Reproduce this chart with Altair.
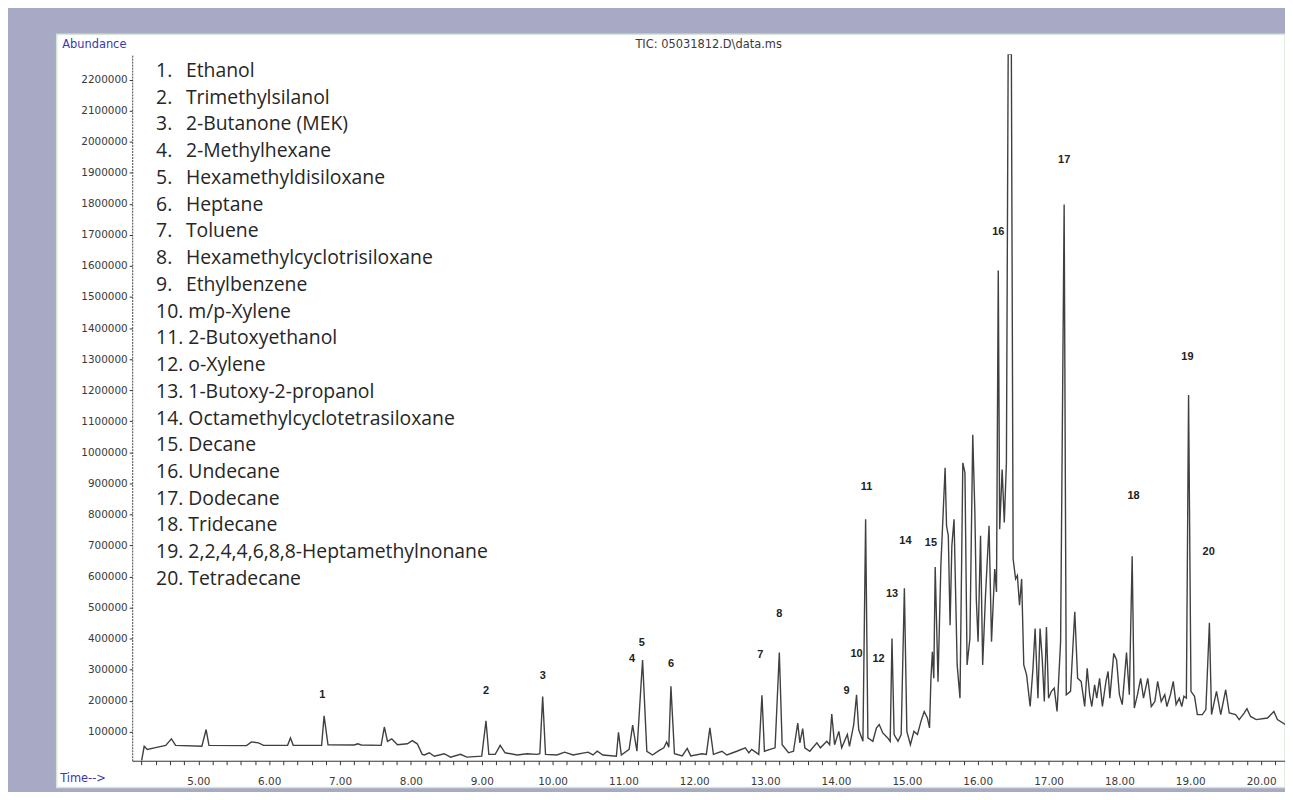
import altair as alt
import pandas as pd

# ---- chromatogram trace (time in minutes, abundance) ----
time_min = [
    4.20, 4.236, 4.28, 4.38, 4.54, 4.62, 4.68, 5.05, 5.11, 5.15, 5.68, 5.75, 5.85, 5.92,
    6.26, 6.30, 6.34, 6.74, 6.775, 6.83, 7.20, 7.25, 7.30, 7.58, 7.625, 7.67, 7.73, 7.81,
    7.95, 8.02, 8.09, 8.16, 8.19, 8.26, 8.33, 8.47, 8.56, 8.70, 8.79, 9.00, 9.06, 9.10,
    9.19, 9.26, 9.33, 9.50, 9.64, 9.78, 9.82, 9.86, 9.90, 10.06, 10.17, 10.29, 10.50,
    10.57, 10.63, 10.71, 10.90, 10.93, 10.97, 11.08, 11.13, 11.19, 11.27, 11.33, 11.41,
    11.50, 11.57, 11.61, 11.64, 11.67, 11.72, 11.83, 11.90, 11.95, 12.11, 12.17, 12.22,
    12.27, 12.39, 12.46, 12.60, 12.72, 12.77, 12.81, 12.91, 12.955, 12.99, 13.07, 13.14,
    13.20, 13.24, 13.33, 13.40, 13.46, 13.49, 13.53, 13.56, 13.63, 13.73, 13.78, 13.87,
    13.91, 13.94, 13.98, 14.04, 14.08, 14.16, 14.19, 14.25, 14.29, 14.32, 14.38, 14.418,
    14.45, 14.52, 14.57, 14.61, 14.66, 14.73, 14.765, 14.79, 14.82, 14.875, 14.92, 14.965,
    15.00, 15.05, 15.10, 15.15, 15.20, 15.245, 15.29, 15.32, 15.34, 15.36, 15.38, 15.40,
    15.44, 15.48, 15.54, 15.56, 15.585, 15.61, 15.635, 15.666, 15.71, 15.75, 15.79, 15.82,
    15.85, 15.89, 15.93, 15.96, 15.98, 16.005, 16.04, 16.07, 16.11, 16.16, 16.195, 16.24,
    16.265, 16.29, 16.31, 16.345, 16.375, 16.405, 16.43, 16.475, 16.50, 16.535, 16.56,
    16.59, 16.62, 16.65, 16.69, 16.74, 16.78, 16.81, 16.85, 16.88, 16.91, 16.94, 16.97,
    17.00, 17.04, 17.08, 17.12, 17.17, 17.22, 17.25, 17.31, 17.37, 17.41, 17.46, 17.51,
    17.545, 17.58, 17.61, 17.65, 17.68, 17.72, 17.76, 17.81, 17.84, 17.865, 17.92, 17.96,
    18.00, 18.04, 18.10, 18.14, 18.18, 18.21, 18.255, 18.30, 18.34, 18.40, 18.45, 18.50,
    18.54, 18.59, 18.64, 18.67, 18.72, 18.76, 18.80, 18.845, 18.88, 18.91, 18.945, 18.976,
    19.01, 19.06, 19.10, 19.17, 19.22, 19.27, 19.30, 19.37, 19.43, 19.50, 19.55, 19.64,
    19.69, 19.76, 19.80, 19.85, 19.93, 20.09, 20.18, 20.23, 20.34,
]
abundance_k = [
    7, 53, 43, 48, 56, 77, 56, 53, 107, 56, 55, 67, 64, 56,
    56, 80, 56, 56, 151, 58, 57, 61, 57, 56, 115, 69, 77, 58,
    61, 71, 61, 27, 25, 32, 21, 29, 18, 27, 18, 21, 135, 27,
    27, 56, 32, 25, 29, 27, 29, 213, 27, 25, 34, 25, 34,
    25, 37, 25, 21, 98, 25, 43, 121, 37, 331, 37, 25,
    39, 48, 67, 50, 246, 29, 22, 46, 22, 29, 27, 112,
    27, 37, 25, 37, 48, 32, 43, 27, 217, 37, 43, 48,
    355, 58, 32, 37, 128, 64, 110, 48, 37, 64, 48, 69,
    58, 157, 58, 101, 48, 91, 53, 123, 219, 107, 69, 784,
    80, 69, 112, 123, 96, 80, 69, 400, 91, 69, 91, 562,
    101, 58, 101, 91, 134, 165, 144, 112, 272, 357, 272, 630,
    261, 635, 950, 763, 731, 443, 699, 784, 315, 208, 966, 934,
    315, 400, 1056, 806, 528, 390, 731, 315, 539, 763, 390, 624,
    550, 1585, 752, 944, 774, 966, 2282, 2282, 656, 592, 603,
    507, 592, 315, 283, 181, 304, 432, 208, 432, 336, 197, 437,
    208, 230, 240, 165, 390, 1798, 219, 230, 486, 272, 262, 181,
    304, 219, 181, 251, 208, 272, 181, 262, 294, 208, 352, 331,
    219, 187, 355, 219, 665, 176, 219, 272, 208, 272, 181, 197,
    262, 197, 219, 181, 219, 262, 187, 208, 181, 214, 208, 1184,
    230, 214, 155, 155, 171, 451, 155, 230, 155, 235, 160, 155,
    139, 160, 174, 149, 139, 144, 165, 139, 123,
]

# ---- peak number labels ----
peak_ids = [str(i) for i in range(1, 21)]
peak_label_time = [6.75, 9.06, 9.86, 11.12, 11.26, 11.67, 12.93, 13.20, 14.15, 14.29,
                   14.43, 14.60, 14.79, 14.98, 15.34, 16.29, 17.22, 18.20, 18.96, 19.26]
peak_label_abund_k = [218, 230, 278, 333, 387, 317, 346, 480, 230, 349,
                      887, 333, 544, 714, 707, 1709, 1940, 858, 1306, 679]

# ---- compound list ----
compound_nums = [f"{i}." for i in range(1, 21)]
compound_names = [
    "Ethanol", "Trimethylsilanol", "2-Butanone (MEK)", "2-Methylhexane",
    "Hexamethyldisiloxane", "Heptane", "Toluene", "Hexamethylcyclotrisiloxane",
    "Ethylbenzene", "m/p-Xylene", "2-Butoxyethanol", "o-Xylene",
    "1-Butoxy-2-propanol", "Octamethylcyclotetrasiloxane", "Decane", "Undecane",
    "Dodecane", "Tridecane", "2,2,4,4,6,8,8-Heptamethylnonane", "Tetradecane",
]

# ---- axis ticks ----
x_tick_values = [round(4.2 + 0.2 * i, 2) for i in range(81)]
y_tick_values = [100000 * i for i in range(1, 23)]

trace = pd.DataFrame({"t": time_min, "a": [v * 1000 for v in abundance_k]})
peaks = pd.DataFrame({"t": peak_label_time, "a": [v * 1000 for v in peak_label_abund_k], "id": peak_ids})
rows = list(range(1, 21))
comps_short = pd.DataFrame({"row": rows[:9], "num": compound_nums[:9], "name": compound_names[:9]})
comps_long = pd.DataFrame({
    "row": rows[9:],
    "full": [f"{n} {c}" for n, c in zip(compound_nums[9:], compound_names[9:])],
})

W, H = 1160, 711
x_scale = alt.Scale(domain=[4.067, 20.337], nice=False, zero=False)
y_scale = alt.Scale(domain=[6400, 2282000], nice=False, zero=False)
blue = "#3838b0"
axis_font = "DejaVu Sans"

panel = alt.Chart(pd.DataFrame({"k": [0]})).mark_rect(
    fill="white", stroke="#d6e6d6", strokeWidth=1.5
).encode(
    x=alt.value(-76), x2=alt.value(W), y=alt.value(-20), y2=alt.value(H + 27)
)

x_axis = alt.Axis(
    orient="bottom", zindex=2,
    values=x_tick_values,
    labelExpr="abs(datum.value - round(datum.value)) < 0.001 ? format(datum.value, '.2f') : ''",
    labelOverlap=False, labelFlush=False, grid=False,
    tickSize=4, labelPadding=12, tickColor="#333", domainColor="#333",
    labelFont=axis_font, labelFontSize=10.5, labelColor="#3a3a3a",
    title="Time-->", titleX=-73, titleY=18, titleAlign="left", titleBaseline="middle",
    titleColor=blue, titleFont=axis_font, titleFontSize=11.5, titleFontWeight="normal",
)
y_axis = alt.Axis(
    orient="left", zindex=2,
    values=y_tick_values, format="d", grid=False, labelOverlap=False,
    tickSize=3, labelPadding=2, tickColor="#333", domainColor="#444", domainDash=[2, 1],
    labelFont=axis_font, labelFontSize=10.5, labelColor="#3a3a3a",
    title="Abundance", titleAngle=0, titleX=-71, titleY=-10, titleAlign="left",
    titleBaseline="middle", titleColor=blue, titleFont=axis_font,
    titleFontSize=11.5, titleFontWeight="normal",
)

line = alt.Chart(trace).mark_line(color="#404040", strokeWidth=1.4, clip=True).encode(
    x=alt.X("t:Q", scale=x_scale, axis=x_axis),
    y=alt.Y("a:Q", scale=y_scale, axis=y_axis),
)

peak_text = alt.Chart(peaks).mark_text(
    font="Liberation Sans", fontSize=11, fontWeight="bold", color="#222", baseline="middle"
).encode(
    x=alt.X("t:Q", scale=x_scale, axis=x_axis),
    y=alt.Y("a:Q", scale=y_scale, axis=None),
    text="id:N",
)

row_scale = alt.Scale(domain=[0.368, 26.80], reverse=True, nice=False, zero=False)
list_font = dict(font="Open Sans", fontSize=19.5, color="#262626", align="left", baseline="middle")
comp_num = alt.Chart(comps_short).mark_text(**list_font).encode(
    x=alt.value(24),
    y=alt.Y("row:Q", scale=row_scale, axis=None),
    text="num:N",
)
comp_name = alt.Chart(comps_short).mark_text(**list_font).encode(
    x=alt.value(54),
    y=alt.Y("row:Q", scale=row_scale, axis=None),
    text="name:N",
)
comp_full = alt.Chart(comps_long).mark_text(**list_font).encode(
    x=alt.value(24),
    y=alt.Y("row:Q", scale=row_scale, axis=None),
    text="full:N",
)

chart = alt.layer(panel, line, peak_text, comp_num, comp_name, comp_full).resolve_scale(
    y="independent"
).properties(
    width=W, height=H,
    padding={"left": 125, "top": 44, "right": 0, "bottom": 29},
    autosize=alt.AutoSizeParams(type="none"),
    title=alt.TitleParams(
        "TIC: 05031812.D\\data.ms", font=axis_font, fontSize=11.5,
        fontWeight="normal", color="#3a3a3a", offset=-17, anchor="middle",
    ),
).configure(background="#a7a9c5").configure_view(strokeWidth=0)

chart.save("out.html", embed_options={"renderer": "svg", "actions": False})
